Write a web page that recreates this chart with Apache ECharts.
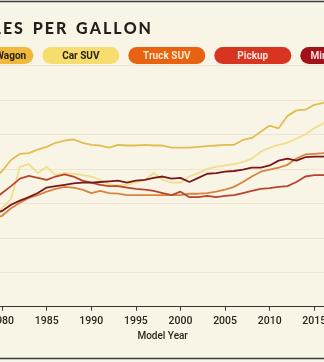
<!DOCTYPE html>
<html><head><meta charset="utf-8">
<script src="https://cdn.jsdelivr.net/npm/echarts@6/dist/echarts.min.js"></script>
<style>
html,body{margin:0;padding:0;width:324px;height:362px;overflow:hidden;background:#f9f5e6}
#c{position:absolute;left:-100px;top:0;width:520px;height:362px}
</style></head>
<body><div id="c"></div>
<script>
const years = [1975,1976,1977,1978,1979,1980,1981,1982,1983,1984,1985,1986,1987,1988,1989,1990,1991,1992,1993,1994,1995,1996,1997,1998,1999,2000,2001,2002,2003,2004,2005,2006,2007,2008,2009,2010,2011,2012,2013,2014,2015,2016,2017,2018,2019,2020,2021];
const sedanWagon = [13.5,15.3,16.1,17.1,18.4,19.7,21.3,22.2,22.3,22.8,23.2,23.8,24.1,24.3,23.8,23.5,23.4,23.1,23.5,23.4,23.4,23.5,23.4,23.4,23.1,23.1,23.1,23.2,23.3,23.4,23.5,23.5,24.2,24.5,25.4,26.3,25.9,27.7,28.5,28.6,29.3,29.6,30.0,30.6,30.9,31.5,31.8];
const carSUV = [11.6,12.2,12.7,13.0,13.6,14.3,15.6,20.3,20.7,19.4,20.3,19.1,19.4,19.3,19.1,18.9,18.4,17.8,17.6,17.7,18.0,18.4,19.4,18.4,18.0,18.0,18.9,19.4,20.0,20.3,20.5,20.7,21.0,21.5,22.5,23.1,23.5,23.8,24.4,25.0,25.9,26.6,27.0,27.5,27.8,28.3,28.8];
const truckSUV = [11.0,11.7,12.1,12.3,12.9,13.2,14.3,15.1,15.8,16.2,16.7,17.1,17.4,17.3,17.0,16.5,16.8,16.5,16.4,16.2,16.2,16.2,16.2,16.2,16.2,16.2,16.4,16.4,16.5,16.7,17.0,17.4,18.1,18.9,19.6,19.9,20.2,20.6,21.5,22.1,22.2,22.3,22.6,23.0,23.2,23.7,24.0];
const pickup = [12.6,13.6,13.9,14.4,15.5,16.5,17.5,18.6,19.0,18.7,18.4,18.9,19.2,18.9,18.3,18.0,17.7,17.5,17.5,17.3,17.1,17.0,16.8,16.5,16.2,16.7,15.9,15.9,16.1,15.9,16.1,16.2,16.5,16.8,17.1,17.2,17.4,17.5,18.1,18.9,19.1,19.1,19.4,19.8,19.9,20.2,20.3];
const minivanVan = [11.3,11.9,12.4,12.6,13.4,13.9,14.8,15.4,15.9,16.5,17.3,17.5,17.7,17.9,18.0,18.0,18.1,18.2,18.3,18.0,18.3,18.4,18.7,18.9,18.6,18.7,18.1,18.7,19.3,19.4,19.6,19.7,19.9,20.2,20.2,20.5,21.2,21.5,21.2,21.7,21.8,21.8,22.0,22.2,22.4,23.0,23.5];
const seriesNames = ['Sedan/Wagon','Car SUV','Truck SUV','Pickup','Minivan/Van'];
const yTicks = [0,5,10,15,20,25,30,35];
const titleText = 'MILES PER GALLON';
const xAxisName = 'Model Year';

const OFF = 100;
const lineColors = ['#e2bd52','#f0de8e','#d6843f','#b8452c','#7a1719'];
const pillColors = ['#f1b93a','#f7dc6e','#e8630f','#d7351f','#a2111a'];
const pillText = ['#2a2118','#2a2118','#fde8d2','#fde3d9','#f9dcdc'];
const seriesData = [sedanWagon, carSUV, truckSUV, pickup, minivanVan];

const spaced = titleText.split(' ').map(w=>w.split('').join('\u2009')).join('\u2009\u200A \u200A\u2009');

const graphics = [
  {type:'rect', silent:true, shape:{x:1, y:1.5, width:518, height:357}, style:{fill:'none', stroke:'#3d3d3d', lineWidth:1.5}},
  {type:'text', silent:true, style:{text:spaced, x:OFF+151, y:29, textAlign:'right', textVerticalAlign:'middle', font:'900 16px Lato', fill:'#241f1a'}}
];
seriesNames.forEach((n,i)=>{
  const x0 = OFF - 43.7 + i*86;
  graphics.push({type:'rect', silent:true, shape:{x:x0, y:47, width:77, height:17, r:8.5}, style:{fill:pillColors[i]}});
  graphics.push({type:'text', silent:true, style:{text:n, x:x0+38.5, y:56, textAlign:'center', textVerticalAlign:'middle', font:'bold 10px Roboto', fill:pillText[i]}});
});

const chart = echarts.init(document.getElementById('c'), null, {renderer:'canvas'});
chart.setOption({
  backgroundColor:'#f9f5e6',
  animation:false,
  grid:{left:OFF-42.5, top:65.6, width:410.3, height:241.1},
  xAxis:{type:'value', min:1975, max:2021, interval:5, name:xAxisName, nameLocation:'middle', nameGap:24,
    nameTextStyle:{color:'#2b2620', fontSize:10, fontWeight:500, fontFamily:'Roboto'},
    axisLine:{lineStyle:{color:'#3a3530', width:1}},
    axisTick:{length:4, lineStyle:{color:'#3a3530'}},
    axisLabel:{color:'#2b2620', fontSize:10.5, fontWeight:500, fontFamily:'Roboto', margin:9, formatter:v=>String(v)},
    splitLine:{show:false}},
  yAxis:{type:'value', min:yTicks[0], max:yTicks[yTicks.length-1], interval:5,
    axisLine:{show:false}, axisTick:{show:false},
    axisLabel:{color:'#2b2620', fontSize:10, fontFamily:'Roboto'},
    splitLine:{lineStyle:{color:'#eee6cf', width:1}}},
  series: seriesNames.map((n,i)=>({
    name:n, type:'line', showSymbol:false, symbol:'none',
    data: years.map((y,k)=>[y, seriesData[i][k]]),
    lineStyle:{color:lineColors[i], width:1.8},
    itemStyle:{color:lineColors[i]}
  })),
  graphic: graphics
});
</script></body></html>
